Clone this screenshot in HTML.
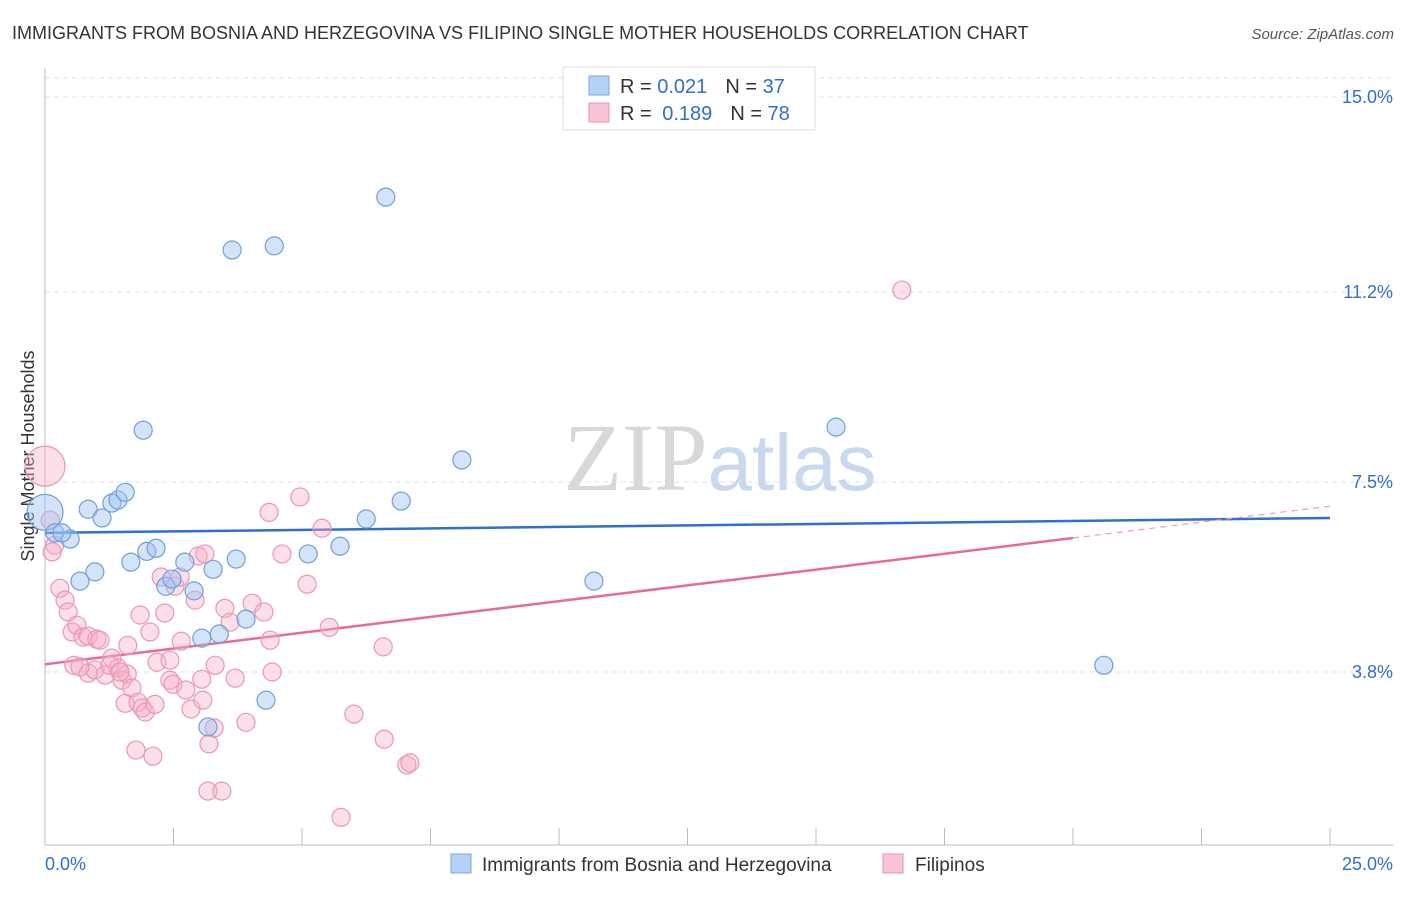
<!DOCTYPE html>
<html><head><meta charset="utf-8"><style>
body{margin:0;background:#fff;font-family:"Liberation Sans",sans-serif;}
svg text{font-family:"Liberation Sans",sans-serif;}
</style></head><body>
<svg id="chart" width="1406" height="892" xmlns="http://www.w3.org/2000/svg">
<text x="12" y="39" font-size="18" fill="#333">IMMIGRANTS FROM BOSNIA AND HERZEGOVINA VS FILIPINO SINGLE MOTHER HOUSEHOLDS CORRELATION CHART</text>
<text x="1394" y="39" font-size="15" fill="#555" text-anchor="end" font-style="italic">Source: ZipAtlas.com</text>
<text x="720" y="490" font-size="96" text-anchor="middle"><tspan fill="#d8d8d8" font-family="Liberation Serif">ZIP</tspan><tspan fill="#c8d8ee" font-size="80">atlas</tspan></text>
<text transform="translate(34,456) rotate(-90)" font-size="18" fill="#333" text-anchor="middle">Single Mother Households</text>
<g id="grid"></g><g id="axes"></g><g id="trends"></g><g id="pts"></g>
<g>
<rect x="563" y="67" width="252" height="63" fill="#fff" stroke="#ddd"/>
<rect x="589" y="76" width="20" height="19" fill="#b5d1f5" stroke="#7aa6e0"/>
<text x="620" y="93" font-size="20" fill="#333">R = <tspan fill="#2f6fd0">0.021</tspan><tspan dx="18">N = </tspan><tspan fill="#2f6fd0">37</tspan></text>
<rect x="589" y="103" width="20" height="19" fill="#f9c4d4" stroke="#e890b0"/>
<text x="620" y="120" font-size="20" fill="#333">R = <tspan fill="#2f6fd0" dx="5">0.189</tspan><tspan dx="18">N = </tspan><tspan fill="#2f6fd0">78</tspan></text>
</g>
<g>
<rect x="451" y="854" width="20" height="19" fill="#b5d1f5" stroke="#7aa6e0"/>
<text x="482" y="871" font-size="19" fill="#333">Immigrants from Bosnia and Herzegovina</text>
<rect x="883" y="854" width="20" height="19" fill="#f9c4d4" stroke="#e890b0"/>
<text x="915" y="871" font-size="19" fill="#333">Filipinos</text>
</g>
</svg>
<script>
const blueX=[0,0.19,0.49,0.84,0.97,0.68,1.11,1.30,1.42,1.56,1.91,1.67,1.98,2.16,2.35,2.47,2.72,2.90,3.27,3.05,3.39,3.17,3.72,3.91,3.64,4.46,4.30,5.12,5.74,6.25,6.63,6.93,8.11,10.68,15.39,20.60,0.33];
const blueY=[6.91,6.51,6.39,6.97,5.75,5.57,6.80,7.09,7.15,7.30,8.51,5.94,6.15,6.21,5.47,5.61,5.94,5.38,5.80,4.46,4.54,2.73,6.00,4.83,12.02,12.10,3.25,6.10,6.25,6.78,13.05,7.13,7.93,5.57,8.57,3.93,6.51];
const pinkX=[0,0.10,0.19,0.14,0.29,0.39,0.45,0.53,0.62,0.74,0.84,1.01,0.56,0.84,0.97,1.17,1.30,1.42,1.50,1.60,1.26,1.56,1.69,1.81,1.89,1.95,1.77,2.10,1.85,2.04,2.26,2.33,2.53,2.63,2.65,2.43,2.49,2.74,2.18,2.84,2.92,2.98,3.05,3.07,3.19,3.31,3.29,3.50,3.60,3.70,3.91,4.03,4.26,4.36,4.38,4.42,4.61,4.96,5.10,5.39,5.53,6.01,6.58,6.60,7.04,7.10,5.76,3.17,3.44,16.67,2.14,3.11,1.61,1.07,1.46,0.68,2.43];
const pinkY=[7.81,6.76,6.27,6.14,5.43,5.20,4.97,4.58,4.71,4.48,4.50,4.44,3.93,3.78,3.84,3.74,4.07,3.88,3.64,3.76,3.93,3.19,3.49,3.21,3.10,3.02,2.28,2.16,4.91,4.58,5.65,4.95,5.47,5.65,4.40,3.64,3.56,3.45,3.99,3.08,5.20,6.06,3.66,3.25,2.40,3.93,2.71,5.04,4.77,3.68,2.82,5.14,4.97,6.91,4.42,3.80,6.10,7.21,5.51,6.60,4.67,2.98,4.29,2.49,1.99,2.03,0.97,1.48,1.48,11.24,3.17,6.10,4.32,4.42,3.80,3.90,4.03];
const blueTrend=[6.51,6.80];
const pinkTrend=[3.95,6.41,7.03];
const pinkSolidEnd=20.0;
const yTicks=[3.8,7.5,11.2,15.0];
const yTickLabels=["3.8%","7.5%","11.2%","15.0%"];
const xTicks=[0,2.5,5,7.5,10,12.5,15,17.5,20,22.5,25];
const NS="http://www.w3.org/2000/svg";
const X=v=>45+v*51.4, Y=v=>867.1-v*51.34;
function mk(tag,parent,attrs){const e=document.createElementNS(NS,tag);for(const k in attrs)e.setAttribute(k,attrs[k]);document.getElementById(parent).appendChild(e);return e;}
mk('line','grid',{x1:45,x2:1393,y1:78,y2:78,stroke:'#e2e2e2','stroke-dasharray':'5,4'});
yTicks.forEach((t,i)=>{
 const l=mk('line','grid',{x1:45,x2:1393,y1:Y(t),y2:Y(t),stroke:'#e2e2e2','stroke-dasharray':'5,4'});
 
 
 const tx=mk('text','grid',{x:1393,y:Y(t)+6,'font-size':18,fill:'#2f6fd0','text-anchor':'end'});
 tx.textContent=yTickLabels[i];
 
 
});
mk('line','axes',{x1:45,x2:45,y1:68,y2:845,stroke:'#bbb'});
mk('line','axes',{x1:45,x2:1393,y1:845,y2:845,stroke:'#bbb'});
xTicks.forEach(t=>{const l=mk('line','axes',{x1:X(t),x2:X(t),y1:828,y2:845,stroke:'#bbb'});
 
 });
let a=mk('text','axes',{x:45,y:870,'font-size':18,fill:'#2f6fd0'});a.textContent='0.0%';


a=mk('text','axes',{x:1393,y:870,'font-size':18,fill:'#2f6fd0','text-anchor':'end'});a.textContent='25.0%';


function dot(x,y,r,fill,stroke,name){const c=mk('circle','pts',{cx:X(x),cy:Y(y),r:r,fill:fill,stroke:stroke,'stroke-width':1.2});
 
 }
pinkX.forEach((x,i)=>dot(x,pinkY[i],i===0?20:9,'rgba(248,175,198,0.4)','#eb96b6','pink-point'));
blueX.forEach((x,i)=>dot(x,blueY[i],i===0?18:9,'rgba(160,196,240,0.45)','#6f9fdc','blue-point'));
let t=mk('line','trends',{x1:X(0),y1:Y(blueTrend[0]),x2:X(25),y2:Y(blueTrend[1]),stroke:'#2f6fd0','stroke-width':2.5});


t=mk('line','trends',{x1:X(0),y1:Y(pinkTrend[0]),x2:X(pinkSolidEnd),y2:Y(pinkTrend[1]),stroke:'#e8699a','stroke-width':2.5});


t=mk('line','trends',{x1:X(pinkSolidEnd),y1:Y(pinkTrend[1]),x2:X(25),y2:Y(pinkTrend[2]),stroke:'#e8a0bb','stroke-width':1.2,'stroke-dasharray':'6,5'});


</script>
</body></html>
